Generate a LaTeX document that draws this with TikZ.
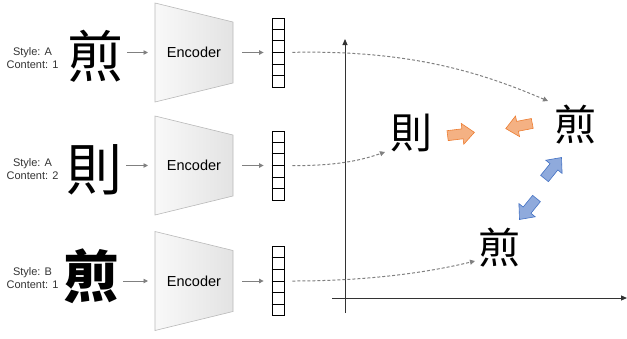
\documentclass[tikz,border=0pt]{standalone}
\usepackage{fontspec}
\setmainfont{Liberation Sans}
\newfontfamily\cjk{Noto Sans CJK TC}
\usetikzlibrary{arrows.meta,calc}
\definecolor{orfill}{HTML}{F4B183}
\definecolor{ordraw}{HTML}{ED7D31}
\definecolor{blfill}{HTML}{8FAADC}
\definecolor{bldraw}{HTML}{4472C4}
\begin{document}
\begin{tikzpicture}[x=1pt,y=-1pt,
  lbl/.style={font=\fontsize{11}{13}\selectfont, align=center, inner sep=0, text=black!80},
  bigchar/.style={font=\cjk\fontsize{56}{56}\selectfont, inner sep=0},
  smallchar/.style={font=\cjk\fontsize{42}{42}\selectfont, inner sep=0},
  enctext/.style={font=\fontsize{14.5}{16}\selectfont, inner sep=0},
  flow/.style={draw=gray, line width=0.9pt, -{Triangle[length=4.5pt,width=4.5pt]}},
  dashlink/.style={draw=gray, line width=1pt, dash pattern=on 3pt off 2pt, -{Triangle[length=5pt,width=5pt]}},
  axisline/.style={draw=black!80, line width=1pt, -{Triangle[length=6pt,width=5pt]}},
  encbox/.style={draw=gray!55, line width=0.6pt, left color=gray!5, right color=gray!22},
  vecbox/.style={draw=black, line width=0.8pt, minimum width=12, minimum height=69, inner sep=0},
  cell/.style={draw=black, line width=0.8pt},
  orarrow/.style={fill=orfill, draw=ordraw, line width=0.6pt},
  blarrow/.style={fill=blfill, draw=bldraw, line width=0.6pt},
  blockarr/.pic={\path[pic actions] (-13.5,-5) -- (1.5,-5) -- (1.5,-10.5) -- (13.5,0) -- (1.5,10.5) -- (1.5,5) -- (-13.5,5) -- cycle;}
]
\useasboundingbox (0,0) rectangle (627,338);

% ---------- rows ----------
\foreach \r/\cy/\ly/\chy/\chx/\lab/\ch/\wt in {
  1/52.5/58/56.5/95/{Style: A\\Content: 1}/煎/\mdseries,
  2/165.5/169/170/94/{Style: A\\Content: 2}/則/\mdseries,
  3/281/278/276/91/{Style: B\\Content: 1}/煎/\bfseries}{
  \node[lbl] (l\r) at (32.5,\ly) {\lab};
  \node[bigchar] (c\r) at (\chx,\chy) {\wt\ch};
  \path[encbox] (155,\cy-49.5) -- (233,\cy-30.5) -- (233,\cy+30.5) -- (155,\cy+49.5) -- cycle;
  \coordinate (ew\r) at (155,\cy);
  \coordinate (ee\r) at (233,\cy);
  \node[enctext] (e\r) at (194,\cy) {Encoder};
  \node[vecbox] (v\r) at (278,\cy) {};
  \foreach \k in {1,...,5}
    \draw[cell] ($(v\r.north west)!\k/6!(v\r.south west)$) -- ($(v\r.north east)!\k/6!(v\r.south east)$);
  \draw[flow, shorten <=4pt, shorten >=7pt] (c\r.east |- ew\r) -- (ew\r);
  \draw[flow, shorten <=9pt, shorten >=8pt] (ee\r) -- (v\r.west);
}

% ---------- latent space ----------
\coordinate (ybot) at (345,313);
\coordinate (ytop) at (345,39);
\coordinate (xl) at (332,298);
\coordinate (xr) at (627,298);
\draw[axisline] (ybot) -- (ytop);
\draw[axisline] (xl) -- (xr);

\node[smallchar] (m) at (411,133) {則};
\node[smallchar] (r) at (575,125) {煎};
\node[smallchar] (b) at (499,248) {煎};

\coordinate (t1) at (548,101);
\coordinate (t2) at (385,152);
\coordinate (t3) at (475,261);
\draw[dashlink, shorten <=8pt] (v1.east) .. controls (410,50) and (480,72) .. (t1);
\draw[dashlink, shorten <=8pt] (v2.east) .. controls (340,166) and (365,159) .. (t2);
\draw[dashlink, shorten <=8pt] (v3.east) .. controls (370,281) and (430,272) .. (t3);

\pic[orarrow, rotate=7] at (461,134) {blockarr};
\pic[orarrow, rotate=191] at (519,126) {blockarr};
\pic[blarrow, rotate=51] at (553,168) {blockarr};
\pic[blarrow, rotate=231] at (528,209) {blockarr};
\end{tikzpicture}
\end{document}
